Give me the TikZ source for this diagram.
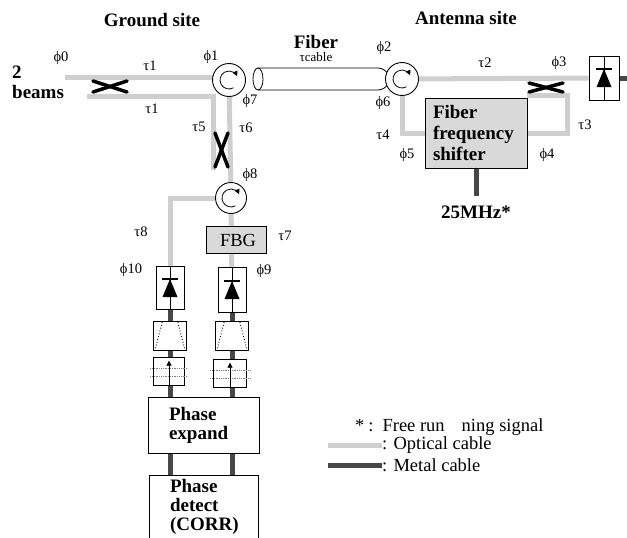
\documentclass[tikz,border=0pt]{standalone}
\usepackage{fontspec}
\setmainfont{Liberation Serif}
\usetikzlibrary{arrows.meta,backgrounds}
\newcommand\mydiode[1]{%
  \draw[line width=0.7pt] (#1.north) -- (#1.south);
  \fill ([shift={(-7.5,9)}]#1.center) -- ([shift={(7.5,9)}]#1.center) -- ([shift={(0,-9)}]#1.center) -- cycle;
  \draw[line width=1.8pt] ([shift={(-8,-9)}]#1.center) -- ([shift={(8,-9)}]#1.center);}
\newcommand\mycirc[1]{%
  \draw[line width=0.8pt,-{Triangle[length=5pt,width=5pt]}] ([shift={(-60:9pt)}]#1.center) arc[start angle=-60,end angle=-335,radius=9pt];}
\newcommand\myamp[1]{%
  \draw[dotted, line width=0.9pt] ([shift={(9,1)}]#1.north west) -- ([shift={(2,-1)}]#1.south west);
  \draw[dotted, line width=0.9pt] ([shift={(-9,1)}]#1.north east) -- ([shift={(-2,-1)}]#1.south east);}
\newcommand\myfilt[1]{%
  \draw[densely dotted, line width=0.8pt, gray] ([shift={(-3,12)}]#1.north west) -- ([shift={(3,12)}]#1.north east);
  \draw[densely dotted, line width=0.8pt, gray] ([shift={(-3,20)}]#1.north west) -- ([shift={(3,20)}]#1.north east);
  \draw[line width=0.7pt,-{Triangle[length=5pt,width=5pt]}] (#1.south) -- ([shift={(0,4)}]#1.north);}
\begin{document}
\begin{tikzpicture}[x=1pt,y=-1pt,
  optical/.style={line width=5pt, draw=gray!38},
  metal/.style={line width=5pt, draw=black!72},
  circ/.style={circle, draw, line width=0.9pt, fill=white, minimum size=33pt, inner sep=0pt},
  crossx/.style={line width=3.5pt, line cap=round},
  lab/.style={inner sep=0pt, font=\fontsize{14.5}{14.5}\selectfont},
  title/.style={inner sep=0pt, font=\bfseries\fontsize{19}{19}\selectfont},
  legend/.style={inner sep=0pt, anchor=west, font=\fontsize{18.5}{18.5}\selectfont},
  detbox/.style={draw, line width=0.8pt, fill=white, minimum width=28pt, minimum height=43pt, inner sep=0pt},
  ampbox/.style={draw, line width=0.8pt, fill=white, minimum width=33pt, minimum height=29pt, inner sep=0pt},
  fltbox/.style={draw, line width=0.8pt, fill=white, minimum width=31pt, minimum height=28pt, inner sep=0pt},
  graybox/.style={draw, line width=0.8pt, fill=gray!30},
  whitebox/.style={draw, line width=0.8pt, fill=white},
]
\useasboundingbox (0,0) rectangle (627,538);

% titles
\node[title] (tground) at (152,20) {Ground site};
\node[title] (tant) at (466,18) {Antenna site};
\node[title] (tfiber) at (316,42) {Fiber};
\node[inner sep=0pt, font=\fontsize{13}{13}\selectfont] (tcable) at (316,57) {τcable};
\node[title, align=left, anchor=north west, font=\bfseries\fontsize{19}{20}\selectfont] (tbeams) at (12,66) {2\\beams};

% circulators
\node[circ] (c1) at (229,80) {};
\node[circ] (c2) at (402,79) {};
\node[circ, minimum size=31pt] (c8) at (231,198) {};
\mycirc{c1}\mycirc{c2}\mycirc{c8}

% boxes
\node[graybox, text width=86pt, minimum height=70pt, inner xsep=8pt, align=left,
      font=\bfseries\fontsize{19}{21}\selectfont] (ffs) at (476,133) {Fiber\\frequency\\shifter};
\node[graybox, minimum width=60pt, minimum height=27pt, inner sep=0pt,
      font=\fontsize{18.5}{18.5}\selectfont] (fbg) at (236,240) {\hspace{4pt}FBG};
\node[detbox] (det1) at (170,288) {};
\node[detbox, minimum height=45pt] (det2) at (232,290) {};
\node[detbox, minimum width=30pt, minimum height=44pt] (det3) at (604,78) {};
\node[ampbox] (amp1) at (170,336) {};
\node[ampbox] (amp2) at (232,336) {};
\node[fltbox] (flt1) at (169,371) {};
\node[fltbox, minimum width=33pt] (flt2) at (230,373) {};
\node[whitebox, text width=69pt, inner xsep=21pt, minimum height=56pt, align=left,
      font=\bfseries\fontsize{19}{19}\selectfont] (pe) at (203.5,425) {Phase\\expand};
\node[text width=68pt, inner xsep=20pt, minimum height=62pt, align=left, inner ysep=0pt,
      font=\bfseries\fontsize{19}{19}\selectfont] (pd) at (204,507) {Phase\\detect\\(CORR)};
\draw[line width=0.8pt] (pd.south west) -- (pd.north west) -- (pd.north east) -- (pd.south east);

\mydiode{det1}\mydiode{det2}\mydiode{det3}
\myamp{amp1}\myamp{amp2}
\myfilt{flt1}\myfilt{flt2}

% coordinates
\coordinate (in1) at (65,77);
\coordinate (in2) at (87,96);
\coordinate (g1) at (213,96);
\coordinate (g2) at (213,170);
\coordinate (a1) at (567,133);
\coordinate (a2) at (567,95);
\coordinate (a3) at (527,95);
\coordinate (mhz) at (476,196);
\coordinate (rout) at (627,78);

\begin{scope}[on background layer]
  \fill[white] (0,0) rectangle (627,538);
  % optical cables
  \draw[optical] (in1) -- (in1 -| c1);
  \draw[optical] (in2) -- (g1) -- (g2);
  \draw[optical] (c1) -- (c8);
  \draw[optical] (c8) -- (c8 -| det1) -- (det1);
  \draw[optical] (c8) -- (det2);
  \draw[optical] (c2) -- (det3);
  \draw[optical] (c2) -- (c2 |- ffs) -- (ffs);
  \draw[optical] (ffs) -- (a1) -- (a2) -- (a3);
  % metal cables
  \draw[metal] (det1) -- (det1 |- pd.north);
  \draw[metal] (det2) -- (det2 |- pd.north);
  \draw[metal] (ffs) -- (mhz);
  \draw[metal] (det3) -- (rout);
  % fiber cylinder
  \draw[line width=0.8pt] (258,68) -- (378,68) .. controls (383,68) and (386,71) .. (389,75);
  \draw[line width=0.8pt] (258,90) -- (378,90) .. controls (383,90) and (386,87) .. (389,83);
\end{scope}
\draw[line width=0.8pt, fill=white] (258,79) ellipse[x radius=5pt, y radius=11pt];

% crossings
\draw[crossx] (93,81) -- (127,92);
\draw[crossx] (93,92) -- (127,81);
\draw[crossx] (215,133) -- (228,167);
\draw[crossx] (228,133) -- (215,167);
\draw[crossx] (529,83) -- (563,92);
\draw[crossx] (529,92) -- (563,83);

% labels
\node[lab] (l0) at (61,58) {ϕ0};
\node[lab] (lt1a) at (150,66) {τ1};
\node[lab] (lt1b) at (152,109) {τ1};
\node[lab] (l1) at (211,57) {ϕ1};
\node[lab] (l7) at (250,101) {ϕ7};
\node[lab] (lt5) at (199,127) {τ5};
\node[lab] (lt6) at (246,128) {τ6};
\node[lab] (l8) at (250,175) {ϕ8};
\node[lab] (lt8) at (141,232) {τ8};
\node[lab] (lt7) at (285,236) {τ7};
\node[lab] (l10) at (131,270) {ϕ10};
\node[lab] (l9) at (264,271) {ϕ9};
\node[lab] (l2) at (384,48) {ϕ2};
\node[lab] (l6) at (383,103) {ϕ6};
\node[lab] (lt2) at (485,63) {τ2};
\node[lab] (l3) at (559,63) {ϕ3};
\node[lab] (lt4) at (383,135) {τ4};
\node[lab] (l5) at (407,155) {ϕ5};
\node[lab] (l4) at (547,155) {ϕ4};
\node[lab] (lt3) at (585,125) {τ3};
\node[title, anchor=north] (tmhz) at (mhz |- 0,206) {25MHz*};

% legend
\coordinate (lo1) at (328,445);
\coordinate (lo2) at (382,445);
\coordinate (lm1) at (328,465);
\coordinate (lm2) at (382,465);
\draw[optical] (lo1) -- (lo2);
\draw[metal] (lm1) -- (lm2);
\node[legend] (leg1) at (355,427) {*\hspace{4pt}:\hspace{9pt}Free run\hspace{17pt}ning signal};
\node[legend] (leg2) at (lo2) {: Optical cable};
\node[legend] (leg3) at (lm2) {: Metal cable};
\end{tikzpicture}
\end{document}
